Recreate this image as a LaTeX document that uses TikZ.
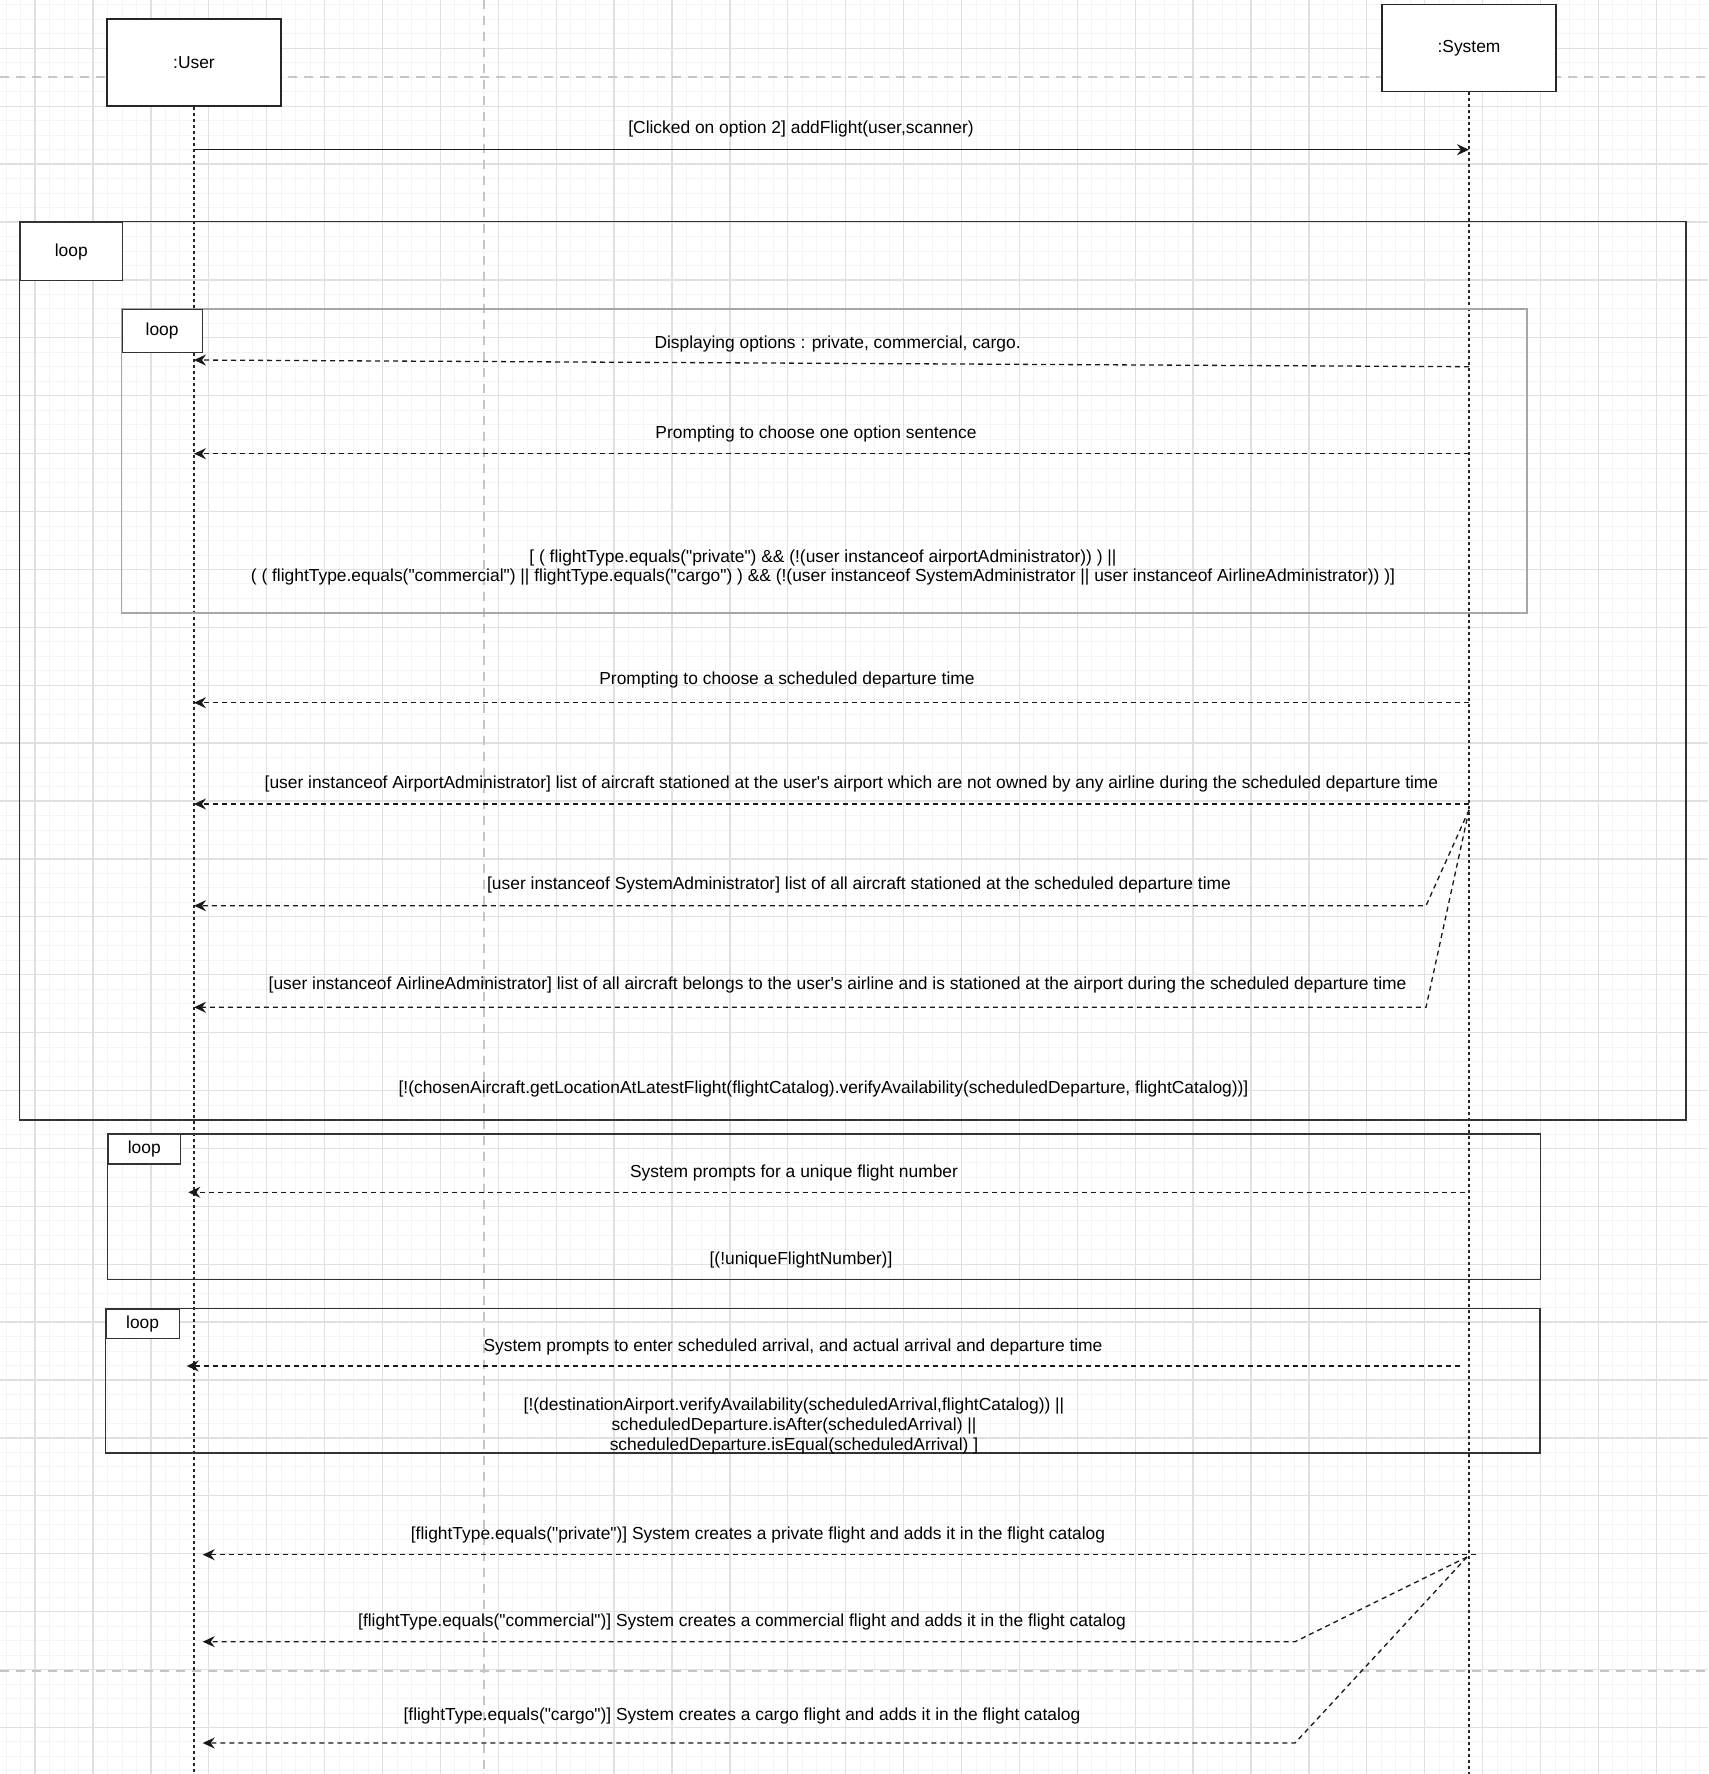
\documentclass[tikz,border=0pt]{standalone}
\usepackage{fontspec}
\setmainfont{Liberation Sans}[Ligatures=TeXOff]
\usetikzlibrary{arrows.meta}

\begin{document}
\begin{tikzpicture}[x=1pt,y=-1pt,
  font=\fontsize{17.4}{19.5}\selectfont,
  gridminor/.style={draw=gray!9,line width=0.8pt},
  gridmajor/.style={draw=gray!24,line width=1.3pt},
  pagebreak/.style={draw=gray!45,line width=1.8pt,dash pattern=on 9pt off 7pt},
  actor/.style={draw=black!85,line width=1.3pt,fill=white,minimum width=174pt,minimum height=87pt,inner sep=0pt},
  lifeline/.style={draw=black!85,line width=1.2pt,dash pattern=on 3pt off 3pt},
  loopframe/.style={draw=black!80,line width=1.3pt},
  looptag/.style={draw=black!80,line width=1.3pt,fill=white,anchor=north west,inner sep=0pt},
  msg/.style={draw=black!90,line width=1.3pt,-{Stealth[length=12pt,width=11pt,inset=4pt]}},
  reply/.style={msg,dash pattern=on 5pt off 4pt},
  lbl/.style={inner sep=0pt,align=center}]

\useasboundingbox (0,0) rectangle (1708,1774);

% background grid and page breaks
\foreach \k in {0,...,122} \draw[gridminor] ({-22.8+14.475*\k},0) -- ({-22.8+14.475*\k},1774);
\foreach \k in {0,...,124} \draw[gridminor] (0,{-9.6+14.475*\k}) -- (1708,{-9.6+14.475*\k});
\foreach \k in {0,...,30} \draw[gridmajor] ({-22.8+57.9*\k},0) -- ({-22.8+57.9*\k},1774);
\foreach \k in {0,...,31} \draw[gridmajor] (0,{-9.6+57.9*\k}) -- (1708,{-9.6+57.9*\k});
\draw[pagebreak] (0,77) -- (1708,77);
\draw[pagebreak] (0,1671) -- (1708,1671);
\draw[pagebreak] (484,0) -- (484,1774);

% lifelines
\node[actor] (user) at (194,62.6) {:User};
\node[actor] (system) at (1469,48) {:System};
\coordinate (userEnd) at (194,1774);
\coordinate (systemEnd) at (1469,1774);
\draw[lifeline] (user.south) -- (userEnd);
\draw[lifeline] (system.south) -- (systemEnd);

% loop frames
\draw[loopframe] (19.6,221.7) rectangle (1686,1120);
\node[looptag,minimum width=102pt,minimum height=58.3pt] (loopOuter) at (19.6,221.7) {loop};
\draw[loopframe,draw=gray!70] (121.5,309) rectangle (1527,613);
\node[looptag,minimum width=80pt,minimum height=43pt] (loopInner) at (121.5,309) {loop};
\draw[loopframe] (107.3,1134) rectangle (1540.7,1279.3);
\node[looptag,minimum width=72.7pt,minimum height=29.3pt] (loopNumber) at (107.3,1134) {loop};
\draw[loopframe] (105.3,1308.5) rectangle (1540,1453);
\node[looptag,minimum width=73.4pt,minimum height=29pt] (loopTimes) at (105.3,1308.5) {loop};

% messages
\coordinate (u0) at (194,149.7);  \coordinate (s0) at (1469,149.7);
\draw[msg] (u0) -- (s0);
\coordinate (s1) at (1469,366.7); \coordinate (u1) at (194,360);
\draw[reply] (s1) -- (u1);
\coordinate (s2) at (1469,453.7); \coordinate (u2) at (194,453.7);
\draw[reply] (s2) -- (u2);
\coordinate (s3) at (1469,702.7); \coordinate (u3) at (194,702.7);
\draw[reply] (s3) -- (u3);
\coordinate (s4) at (1469,804);   \coordinate (u4) at (194,804);
\draw[reply] (s4) -- (u4);
\coordinate (sFork) at (1469,810);
\coordinate (b5) at (1426,905.7); \coordinate (u5) at (194,905.7);
\draw[reply] (sFork) -- (b5) -- (u5);
\coordinate (b6) at (1426,1007.3); \coordinate (u6) at (194,1007.3);
\draw[reply] (sFork) -- (b6) -- (u6);
\coordinate (s7) at (1465,1192.3); \coordinate (u7) at (188.3,1192.3);
\draw[reply] (s7) -- (u7);
\coordinate (s8) at (1460,1366);  \coordinate (u8) at (186.7,1366);
\draw[reply] (s8) -- (u8);
\coordinate (s9) at (1476,1554.7); \coordinate (u9) at (202.7,1554.7);
\draw[reply] (s9) -- (u9);
\coordinate (sCreate) at (1467,1557);
\coordinate (b10) at (1295,1641.7); \coordinate (u10) at (202.7,1641.7);
\draw[reply] (sCreate) -- (b10) -- (u10);
\coordinate (b11) at (1295,1743); \coordinate (u11) at (202.7,1743);
\draw[reply] (sCreate) -- (b11) -- (u11);

% labels
\node[lbl] (lblAdd) at (801,129.5) {[Clicked on option 2] addFlight(user,scanner)};
\node[lbl] (lblOptions) at (837.6,344) {Displaying options : private, commercial, cargo.};
\node[lbl] (lblChoose) at (816,433.5) {Prompting to choose one option sentence};
\node[lbl] (lblTypeGuard) at (823,567.6) {[ ( flightType.equals("private") \&\& (!(user instanceof airportAdministrator)) ) ||\\
( ( flightType.equals("commercial") || flightType.equals("cargo") ) \&\& (!(user instanceof SystemAdministrator || user instanceof AirlineAdministrator)) )]};
\node[lbl] (lblDeparture) at (787,680) {Prompting to choose a scheduled departure time};
\node[lbl] (lblAirport) at (851.5,784.3) {[user instanceof AirportAdministrator] list of aircraft stationed at the user's airport which are not owned by any airline during the scheduled departure time};
\node[lbl] (lblSysAdmin) at (859,885) {[user instanceof SystemAdministrator] list of all aircraft stationed at the scheduled departure time};
\node[lbl] (lblAirline) at (837.6,984.5) {[user instanceof AirlineAdministrator] list of all aircraft belongs to the user's airline and is stationed at the airport during the scheduled departure time};
\node[lbl] (lblAircraftGuard) at (823.5,1088.5) {[!(chosenAircraft.getLocationAtLatestFlight(flightCatalog).verifyAvailability(scheduledDeparture, flightCatalog))]};
\node[lbl] (lblNumber) at (794,1172.5) {System prompts for a unique flight number};
\node[lbl] (lblNumberGuard) at (801,1259.5) {[(!uniqueFlightNumber)]};
\node[lbl] (lblTimes) at (793,1346.5) {System prompts to enter scheduled arrival, and actual arrival and departure time};
\node[lbl,font=\fontsize{17.4}{20.3}\selectfont] (lblTimesGuard) at (794,1425.9) {[!(destinationAirport.verifyAvailability(scheduledArrival,flightCatalog)) ||\\
scheduledDeparture.isAfter(scheduledArrival) ||\\
scheduledDeparture.isEqual(scheduledArrival) ]};
\node[lbl] (lblPrivate) at (758,1534.5) {[flightType.equals("private")] System creates a private flight and adds it in the flight catalog};
\node[lbl] (lblCommercial) at (742,1621.5) {[flightType.equals("commercial")] System creates a commercial flight and adds it in the flight catalog};
\node[lbl] (lblCargo) at (742,1715.5) {[flightType.equals("cargo")] System creates a cargo flight and adds it in the flight catalog};

\end{tikzpicture}
\end{document}
